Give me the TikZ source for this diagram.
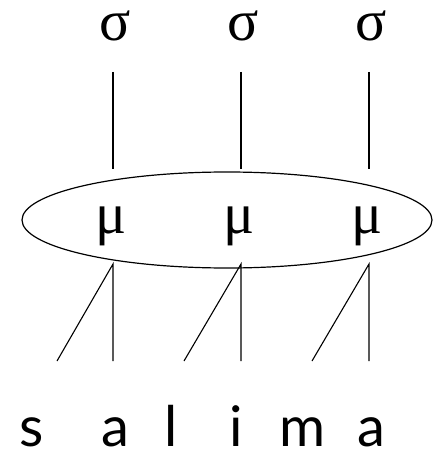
\documentclass[tikz,border=0pt]{standalone}
\usepackage{fontspec}
\setmainfont{Liberation Serif}
\newfontfamily\lettfont{Lato}
\begin{document}
\begin{tikzpicture}[x=1pt,y=-1pt,
  greek/.style={font=\fontsize{58}{60}\selectfont, inner sep=0pt, anchor=base},
  seg/.style={font=\lettfont\fontsize{56}{60}\selectfont, inner sep=0pt, anchor=base},
  link/.style={line width=1.1pt},
  ring/.style={line width=1.2pt}]
\useasboundingbox (0,0) rectangle (433,449);
% syllables
\node[greek] (s1) at (115,41) {σ};
\node[greek] (s2) at (243,41) {σ};
\node[greek] (s3) at (371,41) {σ};
% foot ellipse
\draw[ring] (227,220) ellipse [x radius=205, y radius=48];
% moras
\node[greek] (m1) at (111,233) {μ};
\node[greek] (m2) at (239,233) {μ};
\node[greek] (m3) at (367,233) {μ};
% segments
\node[seg] (c1) at (32,446) {s};
\node[seg] (v1) at (115,446) {a};
\node[seg] (c2) at (171,446) {l};
\node[seg] (v2) at (236,446) {i};
\node[seg] (c3) at (303,446) {m};
\node[seg] (v3) at (371,446) {a};
% line ends
\coordinate (s1b) at (113,72); \coordinate (m1t) at (113,169);
\coordinate (s2b) at (241,72); \coordinate (m2t) at (241,169);
\coordinate (s3b) at (369,72); \coordinate (m3t) at (369,169);
\coordinate (m1b) at (113,264); \coordinate (v1t) at (113,361); \coordinate (c1t) at (57,361);
\coordinate (m2b) at (241,264); \coordinate (v2t) at (241,361); \coordinate (c2t) at (184,361);
\coordinate (m3b) at (369,264); \coordinate (v3t) at (369,361); \coordinate (c3t) at (312,361);
\draw[link] (s1b) -- (m1t);
\draw[link] (s2b) -- (m2t);
\draw[link] (s3b) -- (m3t);
\draw[link] (c1t) -- (m1b) -- (v1t);
\draw[link] (c2t) -- (m2b) -- (v2t);
\draw[link] (c3t) -- (m3b) -- (v3t);
\end{tikzpicture}
\end{document}
